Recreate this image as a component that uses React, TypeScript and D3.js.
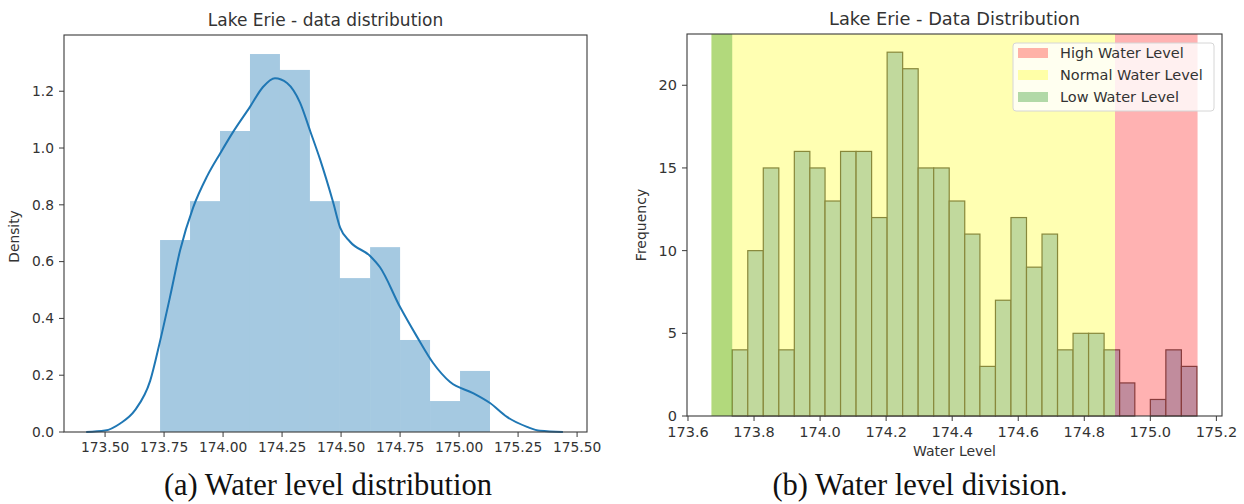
import React from "react";
import * as d3 from "d3";

// left panel: seaborn distplot (11 bins + kde)
const densityEdges = [173.733, 173.86, 173.987, 174.114, 174.241, 174.368, 174.495, 174.623, 174.75, 174.877, 175.004, 175.131];
const densityValues = [0.676, 0.813, 1.06, 1.331, 1.275, 0.813, 0.542, 0.651, 0.324, 0.109, 0.215];
const kdeX = [173.42, 173.5, 173.564, 173.627, 173.691, 173.733, 173.775, 173.818, 173.873, 173.932, 173.987, 174.042, 174.114, 174.169, 174.22, 174.271, 174.326, 174.369, 174.411, 174.466, 174.496, 174.538, 174.623, 174.665, 174.75, 174.822, 174.89, 174.962, 175.059, 175.131, 175.203, 175.288, 175.343, 175.44];
const kdeY = [0, 0.005, 0.03, 0.077, 0.18, 0.32, 0.475, 0.64, 0.79, 0.9, 0.98, 1.056, 1.145, 1.215, 1.246, 1.229, 1.16, 1.06, 0.96, 0.81, 0.72, 0.67, 0.62, 0.58, 0.44, 0.335, 0.243, 0.176, 0.137, 0.102, 0.053, 0.018, 0.004, 0];
const leftXTicks = [173.5, 173.75, 174.0, 174.25, 174.5, 174.75, 175.0, 175.25, 175.5];
const leftYTicks = [0, 0.2, 0.4, 0.6, 0.8, 1.0, 1.2];

// right panel: 30-bin frequency histogram with level bands
const freqEdges = [173.734, 173.781, 173.828, 173.875, 173.922, 173.969, 174.015, 174.062, 174.109, 174.156, 174.203, 174.25, 174.297, 174.344, 174.391, 174.438, 174.484, 174.531, 174.578, 174.625, 174.672, 174.719, 174.766, 174.813, 174.86, 174.907, 174.953, 175.0, 175.047, 175.094, 175.141];
const freqCounts = [4, 10, 15, 4, 16, 15, 13, 16, 16, 12, 22, 21, 15, 15, 13, 11, 3, 7, 12, 9, 11, 4, 5, 5, 4, 2, 0, 1, 4, 3];
const levelNames = ["High Water Level", "Normal Water Level", "Low Water Level"];
const levelColors = ["red", "yellow", "green"];
const levelStart = [174.893, 173.671, 173.671];
const levelEnd = [175.143, 174.893, 173.734];
const rightXTicks = [173.6, 173.8, 174.0, 174.2, 174.4, 174.6, 174.8, 175.0, 175.2];
const rightYTicks = [0, 5, 10, 15, 20];

const FONT = "'DejaVu Sans', sans-serif";
const TXT = "#333";

const LeftChart = () => {
  const M = { left: 64, right: 587, top: 35, bottom: 432 };
  const x = d3.scaleLinear().domain([173.326, 175.542]).range([M.left, M.right]);
  const y = d3.scaleLinear().domain([0, 1.398]).range([M.bottom, M.top]);
  const kde = d3
    .line<number>()
    .x((_, i) => x(kdeX[i]))
    .y((d) => y(d))
    .curve(d3.curveMonotoneX)(kdeY);
  const fs = 13.8;

  return (
    <g>
      {densityValues.map((v, i) => (
        <rect
          key={i}
          x={x(densityEdges[i])}
          y={y(v)}
          width={x(densityEdges[i + 1]) - x(densityEdges[i])}
          height={y(0) - y(v)}
          fill="#1f77b4"
          fillOpacity={0.4}
        />
      ))}
      <path d={kde || ""} fill="none" stroke="#1f77b4" strokeWidth={2} />
      <rect x={M.left} y={M.top} width={M.right - M.left} height={M.bottom - M.top} fill="none" stroke="#3a3a3a" strokeWidth={1.1} />
      {leftXTicks.map((t) => (
        <g key={t}>
          <line x1={x(t)} x2={x(t)} y1={M.bottom} y2={M.bottom + 5} stroke="#3a3a3a" />
          <text x={x(t)} y={M.bottom + 20} textAnchor="middle" fontSize={fs} fontFamily={FONT} fill={TXT}>
            {t.toFixed(2)}
          </text>
        </g>
      ))}
      {leftYTicks.map((t) => (
        <g key={t}>
          <line x1={M.left - 5} x2={M.left} y1={y(t)} y2={y(t)} stroke="#3a3a3a" />
          <text x={M.left - 10} y={y(t)} dy="0.35em" textAnchor="end" fontSize={fs} fontFamily={FONT} fill={TXT}>
            {t.toFixed(1)}
          </text>
        </g>
      ))}
      <text x={(M.left + M.right) / 2} y={26} textAnchor="middle" fontSize={17} fontFamily={FONT} fill={TXT}>
        Lake Erie - data distribution
      </text>
      <text
        transform={`translate(19,${(M.top + M.bottom) / 2 + 3}) rotate(-90)`}
        textAnchor="middle"
        fontSize={fs}
        fontFamily={FONT}
        fill={TXT}
      >
        Density
      </text>
    </g>
  );
};

const RightChart = () => {
  const M = { left: 687, right: 1222, top: 34, bottom: 416 };
  const x = d3.scaleLinear().domain([173.597, 175.217]).range([M.left, M.right]);
  const y = d3.scaleLinear().domain([0, 23.1]).range([M.bottom, M.top]);
  const fs = 14.5;
  // normal first, then low over it, then high
  const bandOrder = [1, 2, 0];

  return (
    <g>
      {freqCounts.map((c, i) => (
        <rect
          key={i}
          x={x(freqEdges[i])}
          y={y(c)}
          width={x(freqEdges[i + 1]) - x(freqEdges[i])}
          height={y(0) - y(c)}
          fill="#a6c9e1"
          stroke="#555"
          strokeWidth={1.2}
        />
      ))}
      {bandOrder.map((k) => (
        <rect
          key={k}
          x={x(levelStart[k])}
          y={M.top}
          width={x(levelEnd[k]) - x(levelStart[k])}
          height={M.bottom - M.top}
          fill={levelColors[k]}
          fillOpacity={0.3}
        />
      ))}
      <rect x={M.left} y={M.top} width={M.right - M.left} height={M.bottom - M.top} fill="none" stroke="#3a3a3a" strokeWidth={1.1} />
      {rightXTicks.map((t) => (
        <g key={t}>
          <line x1={x(t)} x2={x(t)} y1={M.bottom} y2={M.bottom + 5} stroke="#3a3a3a" />
          <text x={x(t)} y={M.bottom + 21} textAnchor="middle" fontSize={fs} fontFamily={FONT} fill={TXT}>
            {t.toFixed(1)}
          </text>
        </g>
      ))}
      {rightYTicks.map((t) => (
        <g key={t}>
          <line x1={M.left - 5} x2={M.left} y1={y(t)} y2={y(t)} stroke="#3a3a3a" />
          <text x={M.left - 10} y={y(t)} dy="0.35em" textAnchor="end" fontSize={fs} fontFamily={FONT} fill={TXT}>
            {t}
          </text>
        </g>
      ))}
      <text x={(M.left + M.right) / 2} y={25} textAnchor="middle" fontSize={17.8} fontFamily={FONT} fill={TXT}>
        Lake Erie - Data Distribution
      </text>
      <text x={(M.left + M.right) / 2} y={456} textAnchor="middle" fontSize={14} fontFamily={FONT} fill={TXT}>
        Water Level
      </text>
      <text
        transform={`translate(646,${(M.top + M.bottom) / 2}) rotate(-90)`}
        textAnchor="middle"
        fontSize={14}
        fontFamily={FONT}
        fill={TXT}
      >
        Frequency
      </text>
      <g transform="translate(1013,43)">
        <rect x={0} y={0} width={201} height={68} rx={3} fill="white" fillOpacity={0.8} stroke="#d6d6d6" />
        {levelNames.map((name, i) => (
          <g key={name} transform={`translate(0,${10 + i * 22})`}>
            <rect x={5} y={-5} width={30} height={10} fill={levelColors[i]} fillOpacity={0.3} />
            <text x={47} y={0} dy="0.35em" fontSize={fs} fontFamily={FONT} fill={TXT}>
              {name}
            </text>
          </g>
        ))}
      </g>
    </g>
  );
};

export default function App() {
  return (
    <div style={{ position: "absolute", left: 0, top: 0, background: "white" }}>
      <svg width={1244} height={504}>
        <rect width={1244} height={504} fill="white" />
        <LeftChart />
        <RightChart />
        <text x={328} y={495} textAnchor="middle" fontSize={30.5} fontFamily="'Liberation Serif', 'Times New Roman', serif" fill="#111">
          (a) Water level distribution
        </text>
        <text x={920} y={495} textAnchor="middle" fontSize={30.5} fontFamily="'Liberation Serif', 'Times New Roman', serif" fill="#111">
          (b) Water level division.
        </text>
      </svg>
    </div>
  );
}
